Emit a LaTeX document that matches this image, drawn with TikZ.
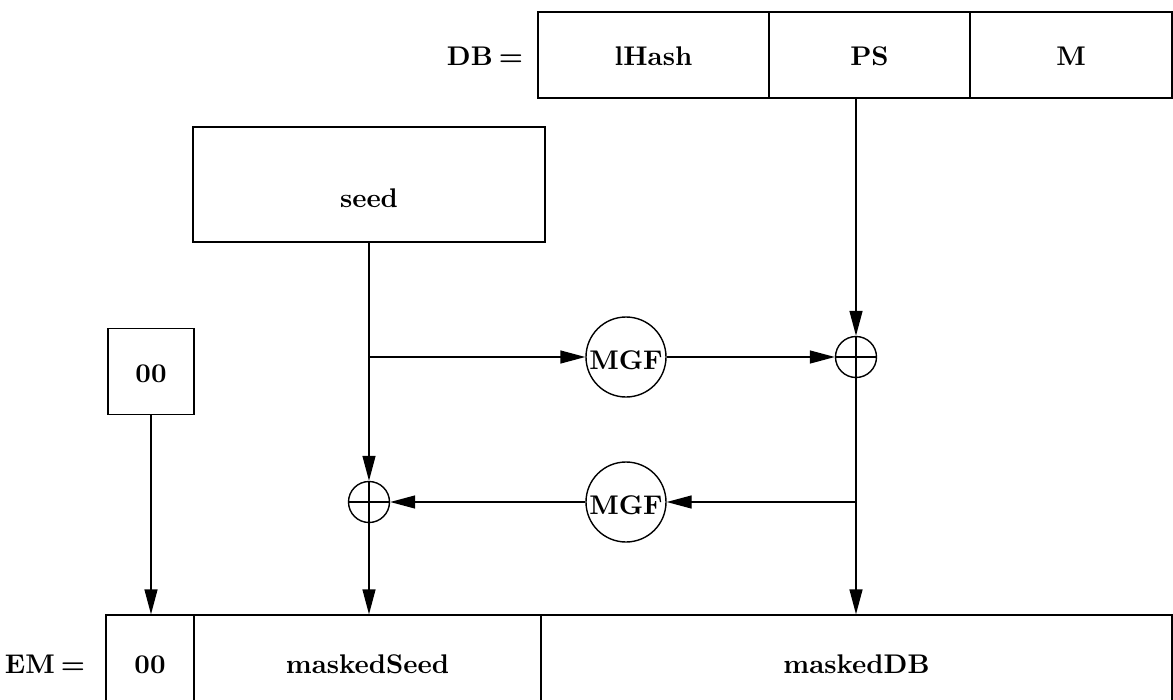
\documentclass[tikz,border=0pt]{standalone}
\usepackage{fontspec}
\newfontfamily\lmbf{lmroman10-bold.otf}
\usetikzlibrary{arrows.meta}
\newcommand{\lmb}{\lmbf\fontsize{27}{32}\selectfont}
\begin{document}
\begin{tikzpicture}[x=1pt,y=-1pt,line width=1.4pt,
  cell/.style={draw,minimum width=#1,minimum height=86pt,inner sep=0pt,font=\lmb,text height=20pt,text depth=0pt},
  mgfnode/.style={draw,circle,minimum size=80pt,inner sep=0pt,font=\lmb,text height=24pt,text depth=0pt},
  xornode/.style={draw,circle,minimum size=41pt,inner sep=0pt},
  arr/.style={-{Triangle[length=25pt,width=13pt]}}]
\useasboundingbox (0,0) rectangle (1173,699);
% DB row
\node[font=\lmb,text height=20pt,text depth=0pt] (dbl) at (485,55) {DB\hspace{6pt}=};
\node[cell=231pt] (lh) at (653.5,55) {lHash};
\node[cell=201pt] (ps) at (869.5,55) {PS};
\node[cell=202pt] (m) at (1071,55) {M};
% seed
\node[cell=352pt,minimum height=115pt,text height=45pt] (seed) at (369,184.5) {seed};
% 00
\node[cell=86pt,text height=21pt] (z) at (151,371.5) {00};
% MGFs and XORs
\node[mgfnode] (mgf1) at (626,357) {MGF};
\node[mgfnode] (mgf2) at (626,502) {MGF};
\node[xornode] (x1) at (856,357) {};
\node[xornode] (x2) at (369,502) {};
\draw (x1.north) -- (x1.south) (x1.west) -- (x1.east);
\draw (x2.north) -- (x2.south) (x2.west) -- (x2.east);
% EM row
\node[font=\lmb,text height=30pt,text depth=0pt] (eml) at (45,658) {EM\hspace{6pt}=};
\node[cell=88pt,text height=30pt] (e00) at (150,658) {00};
\node[cell=347pt,text height=30pt] (eseed) at (367.5,658) {maskedSeed};
\node[cell=631pt,text height=30pt] (edb) at (856.5,658) {maskedDB};
% connectors
\coordinate (b1) at (369,357);
\coordinate (b2) at (856,502);
\draw[arr] (x1 |- ps.south) -- (x1.north);
\draw[arr] (seed.south -| x2) -- (x2.north);
\draw[arr] (b1) -- (mgf1.west);
\draw[arr] (mgf1.east) -- (x1.west);
\draw[arr] (x1.south) -- (x1 |- edb.north);
\draw[arr] (b2) -- (mgf2.east);
\draw[arr] (mgf2.west) -- (x2.east);
\draw[arr] (x2.south) -- (x2 |- eseed.north);
\draw[arr] (z.south) -- (z |- e00.north);
\end{tikzpicture}
\end{document}
